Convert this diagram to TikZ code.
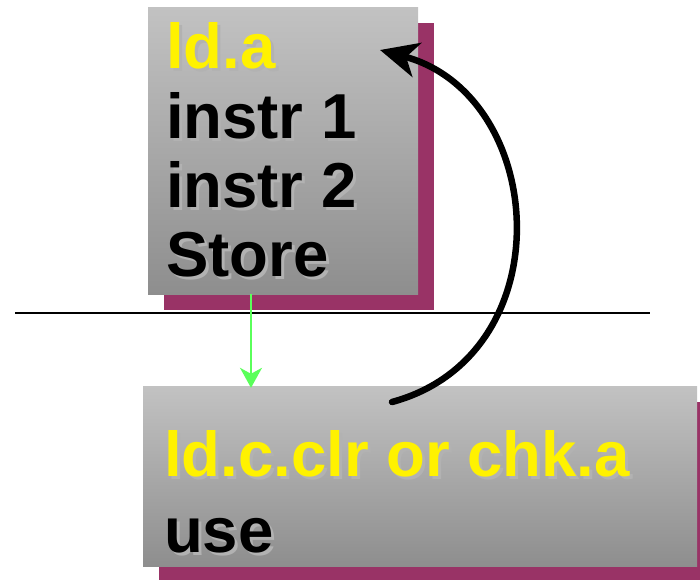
\documentclass[tikz,border=0pt]{standalone}
\usepackage{fontspec}
\setmainfont{Liberation Sans}
\usetikzlibrary{arrows.meta,shadows}
\definecolor{boxtop}{RGB}{194,194,194}
\definecolor{boxbot}{RGB}{142,142,142}
\definecolor{plum}{RGB}{153,51,102}
\definecolor{textshade}{RGB}{178,178,178}
\definecolor{flow}{RGB}{90,255,90}
% text with a light drop shadow set behind it
\newcommand\shadetext[2]{%
  \makebox[0pt][l]{\hspace{3pt}\raisebox{-3pt}{\textcolor{textshade}{#2}}}%
  \textcolor{#1}{#2}}
\begin{document}
\begin{tikzpicture}[x=1pt,y=-1pt,
  panel/.style={rectangle, draw=none, top color=boxtop, bottom color=boxbot,
    inner sep=0pt, general shadow={fill=plum, shadow xshift=16pt, shadow yshift=-16pt}},
  label/.style={anchor=base west, inner sep=0pt, outer sep=0pt,
    font=\fontsize{63.5}{70}\selectfont\bfseries},
  flowarrow/.style={draw=flow, line width=2pt, -{Stealth[length=20pt,width=22pt,inset=6pt]}},
  loopback/.style={line width=6.5pt, line cap=round, -{Stealth[length=38pt,width=35pt,inset=11pt]}},
]
\clip (0,0) rectangle (700,579);

% the two instruction panels
\node[panel, minimum width=270pt, minimum height=287pt] (top) at (283,150.5) {};
\node[panel, minimum width=554pt, minimum height=180pt] (bot) at (420,476) {};

% upper panel text
\node[label] (t1) at (166,68) {\shadetext{yellow}{ld.a}};
\node[label] (t2) at (166,138) {\shadetext{black}{instr 1}};
\node[label] (t3) at (166,207) {\shadetext{black}{instr 2}};
\node[label] (t4) at (166,276) {\shadetext{black}{Store}};

% lower panel text
\node[label] (b1) at (164,476) {\shadetext{yellow}{ld.c.clr or chk.a}};
\node[label] (b2) at (164,552) {\shadetext{black}{use}};

% separator
\coordinate (ruleL) at (15,313);
\coordinate (ruleR) at (650,313);
\draw[line width=2pt] (ruleL) -- (ruleR);

% downward flow
\coordinate (gx) at (251,0);
\draw[flowarrow] (top.south -| gx) -- ([yshift=-2pt]bot.north -| gx);

% recovery branch back to the load
\coordinate (tail) at (392,402);
\coordinate (head) at (380,50);
\draw[loopback] (tail) .. controls (565,355) and (548,95) .. (head);
\end{tikzpicture}
\end{document}
